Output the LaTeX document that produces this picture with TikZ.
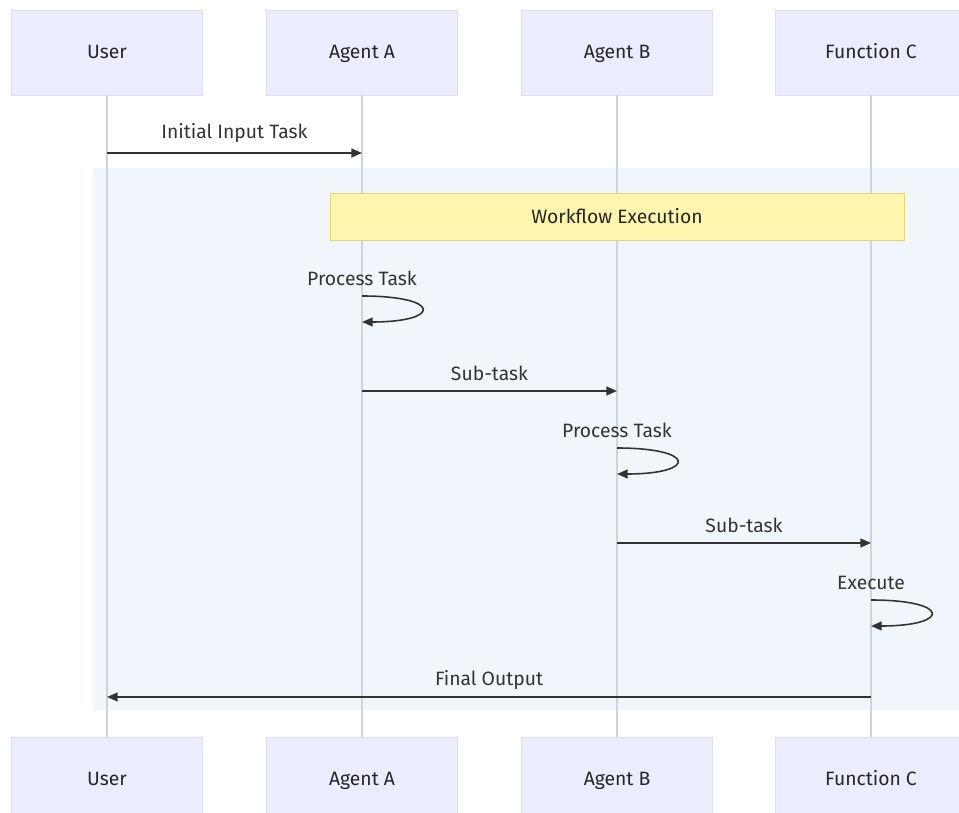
\documentclass[tikz,border=0pt]{standalone}
\usepackage{fontspec}
\setmainfont{Fira Sans}
\usepackage{xcolor}
\definecolor{actorfill}{RGB}{236,236,255}
\definecolor{actorline}{RGB}{222,222,240}
\definecolor{lifegray}{RGB}{210,210,222}
\definecolor{rectblue}{RGB}{241,246,253}
\definecolor{notefill}{RGB}{255,245,173}
\definecolor{noteline}{RGB}{222,212,120}
\definecolor{inkgray}{RGB}{51,51,51}
\usepackage{tikz}
\usetikzlibrary{arrows.meta}
\tikzset{
  actor/.style={draw=actorline, fill=actorfill, minimum width=3.82cm, minimum height=1.7cm,
                text height=1.6ex, text depth=0.4ex,
                font=\fontsize{11}{13}\selectfont, text=black!85},
  lifeline/.style={draw=lifegray, line width=0.8pt},
  msg/.style={draw=inkgray, line width=0.9pt, -{Triangle[length=6pt,width=5pt]}},
  msglabel/.style={font=\fontsize{11}{13}\selectfont, text=inkgray, inner sep=0pt, anchor=base},
  notebox/.style={draw=noteline, fill=notefill, font=\fontsize{11}{13}\selectfont, text=black!85}
}

\begin{document}
\begin{tikzpicture}[x=0.02cm, y=-0.02cm]
                \useasboundingbox (0,0) rectangle (959,813);
                % highlighted block behind the workflow
                \fill[rectblue] (93,168) rectangle (970,710);
                % participants, top and bottom, with lifelines
                \foreach \n/\x/\t in {usr/107/User, aga/362/Agent A, agb/617/Agent B, fnc/871/Function C} {
                    \node[actor] (\n-top) at (\x,52.5) {\t};
                    \node[actor] (\n-bot) at (\x,779.5) {\t};
                    \draw[lifeline] (\n-top) -- (\n-bot);
                }
                % message rows
                \coordinate (m1) at (0,153);
                \coordinate (m2a) at (0,296);
                \coordinate (m2b) at (0,322);
                \coordinate (m3) at (0,391);
                \coordinate (m4a) at (0,448);
                \coordinate (m4b) at (0,474);
                \coordinate (m5) at (0,543);
                \coordinate (m6a) at (0,600);
                \coordinate (m6b) at (0,626);
                \coordinate (m7) at (0,697);
                \draw[msg] (usr-top |- m1) -- node[msglabel, yshift=8pt] {Initial Input Task} (aga-top |- m1);
                \node[notebox, minimum width=11.48cm, minimum height=0.94cm] (wfnote) at (617,216.5) {Workflow Execution};
                \draw[msg] (aga-top |- m2a) .. controls +(80,0) and +(80,0) .. (aga-top |- m2b);
                \node[msglabel, yshift=6.2pt] at (aga-top |- m2a) {Process Task};
                \draw[msg] (aga-top |- m3) -- node[msglabel, yshift=6pt] {Sub-task} (agb-top |- m3);
                \draw[msg] (agb-top |- m4a) .. controls +(80,0) and +(80,0) .. (agb-top |- m4b);
                \node[msglabel, yshift=6.2pt] at (agb-top |- m4a) {Process Task};
                \draw[msg] (agb-top |- m5) -- node[msglabel, yshift=6pt] {Sub-task} (fnc-top |- m5);
                \draw[msg] (fnc-top |- m6a) .. controls +(80,0) and +(80,0) .. (fnc-top |- m6b);
                \node[msglabel, yshift=6.2pt] at (fnc-top |- m6a) {Execute};
                \draw[msg] (fnc-top |- m7) -- node[msglabel, yshift=6.8pt] {Final Output} (usr-top |- m7);
            \end{tikzpicture}
\end{document}
